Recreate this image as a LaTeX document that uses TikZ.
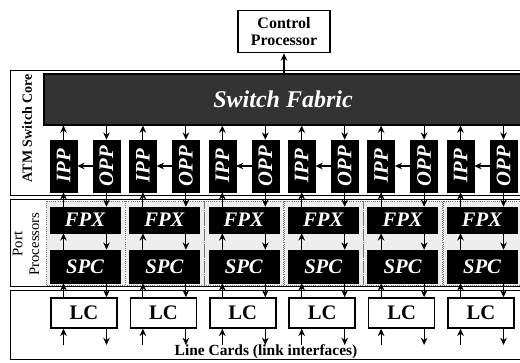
\documentclass[tikz,border=0pt]{standalone}
\usepackage{fontspec}
\setmainfont{Liberation Serif}
\usepackage{graphicx}
\usetikzlibrary{arrows.meta}
\begin{document}
\begin{tikzpicture}[x=0.75pt,y=-0.75pt,
  dark/.style={fill=black, draw=black, text=white, inner sep=0pt,
    font=\bfseries\itshape\fontsize{15.5}{15.5}\selectfont},
  lcbox/.style={fill=white, draw=black, line width=1.1pt, inner sep=0pt,
    minimum width=49.5pt, minimum height=22.5pt,
    font=\bfseries\fontsize{15.5}{15.5}\selectfont},
  arr/.style={-{Stealth[length=5.5pt,width=5pt]}, line width=0.8pt},
  frame/.style={draw=black, line width=0.7pt},
  colbg/.style={fill=black!7, draw=black!55, densely dotted, line width=0.6pt},
  lbl/.style={font=\bfseries\fontsize{10.5}{10.5}\selectfont},
]
\useasboundingbox (0,0) rectangle (520,362);

% group frames
\draw[frame] (10,70) rectangle (530,195);
\draw[frame] (10,199) rectangle (530,286);
\draw[frame] (10,290) rectangle (530,359);

% labels of the groups
\node[lbl, rotate=90] (corelbl) at (27,128) {ATM Switch Core};
\node[font=\fontsize{11}{12.5}\selectfont, rotate=90, align=center] (portlbl) at (26,244) {Port\\Processors};
\node[font=\bfseries\fontsize{11.6}{11.6}\selectfont] (lclbl) at (266,352) {Line Cards (link interfaces)};

% control processor
\node[draw=black, line width=0.8pt, fill=white, minimum width=69pt, minimum height=32pt,
  align=center, inner sep=0pt, font=\bfseries\fontsize{12}{12.5}\selectfont] (ctrl) at (284,31.5) {Control\\Processor};

% switch fabric
\node[fill=black!80, draw=black, line width=0.8pt, text=white, inner sep=0pt,
  minimum width=358.5pt, minimum height=38.25pt,
  font=\bfseries\itshape\fontsize{18}{18}\selectfont] (fabric) at (283,99.5) {Switch Fabric};

\draw[arr] (ctrl.south |- fabric.north) -- (ctrl.south);

\foreach \i in {0,...,5} {
  \pgfmathsetmacro\L{50+79.4*\i}
  \draw[colbg] (\L-4,201) rectangle (\L+75,285);
  \node[dark, minimum width=20.25pt, minimum height=39pt] (ipp\i) at (\L+13.5,166) {\rotatebox{90}{IPP}};
  \node[dark, minimum width=20.25pt, minimum height=39pt] (opp\i) at (\L+56.5,166) {\rotatebox{90}{OPP}};
  \node[dark, minimum width=52.5pt, minimum height=19.5pt] (fpx\i) at (\L+35,220) {FPX};
  \node[dark, minimum width=52.5pt, minimum height=24.75pt] (spc\i) at (\L+35,266.5) {SPC};
  \node[lcbox] (lc\i) at (\L+34,313) {LC};
  \coordinate (in\i) at (\L+13.5,345);
  \coordinate (out\i) at (\L+56.5,345);
  \draw[arr] (ipp\i.north) -- (ipp\i.north |- fabric.south);
  \draw[arr] (opp\i.north |- fabric.south) -- (opp\i.north);
  \draw[arr] (opp\i.west) -- (ipp\i.east);
  \draw[arr] (ipp\i.south |- fpx\i.north) -- (ipp\i.south);
  \draw[arr] (opp\i.south) -- (opp\i.south |- fpx\i.north);
  \draw[arr] (ipp\i.south |- spc\i.north) -- (ipp\i.south |- fpx\i.south);
  \draw[arr] (opp\i.south |- fpx\i.south) -- (opp\i.south |- spc\i.north);
  \draw[arr] (ipp\i.south |- lc\i.north) -- (ipp\i.south |- spc\i.south);
  \draw[arr] (opp\i.south |- spc\i.south) -- (opp\i.south |- lc\i.north);
  \draw[arr] (in\i) -- (in\i |- lc\i.south);
  \draw[arr] (out\i |- lc\i.south) -- (out\i);
}
\end{tikzpicture}
\end{document}
